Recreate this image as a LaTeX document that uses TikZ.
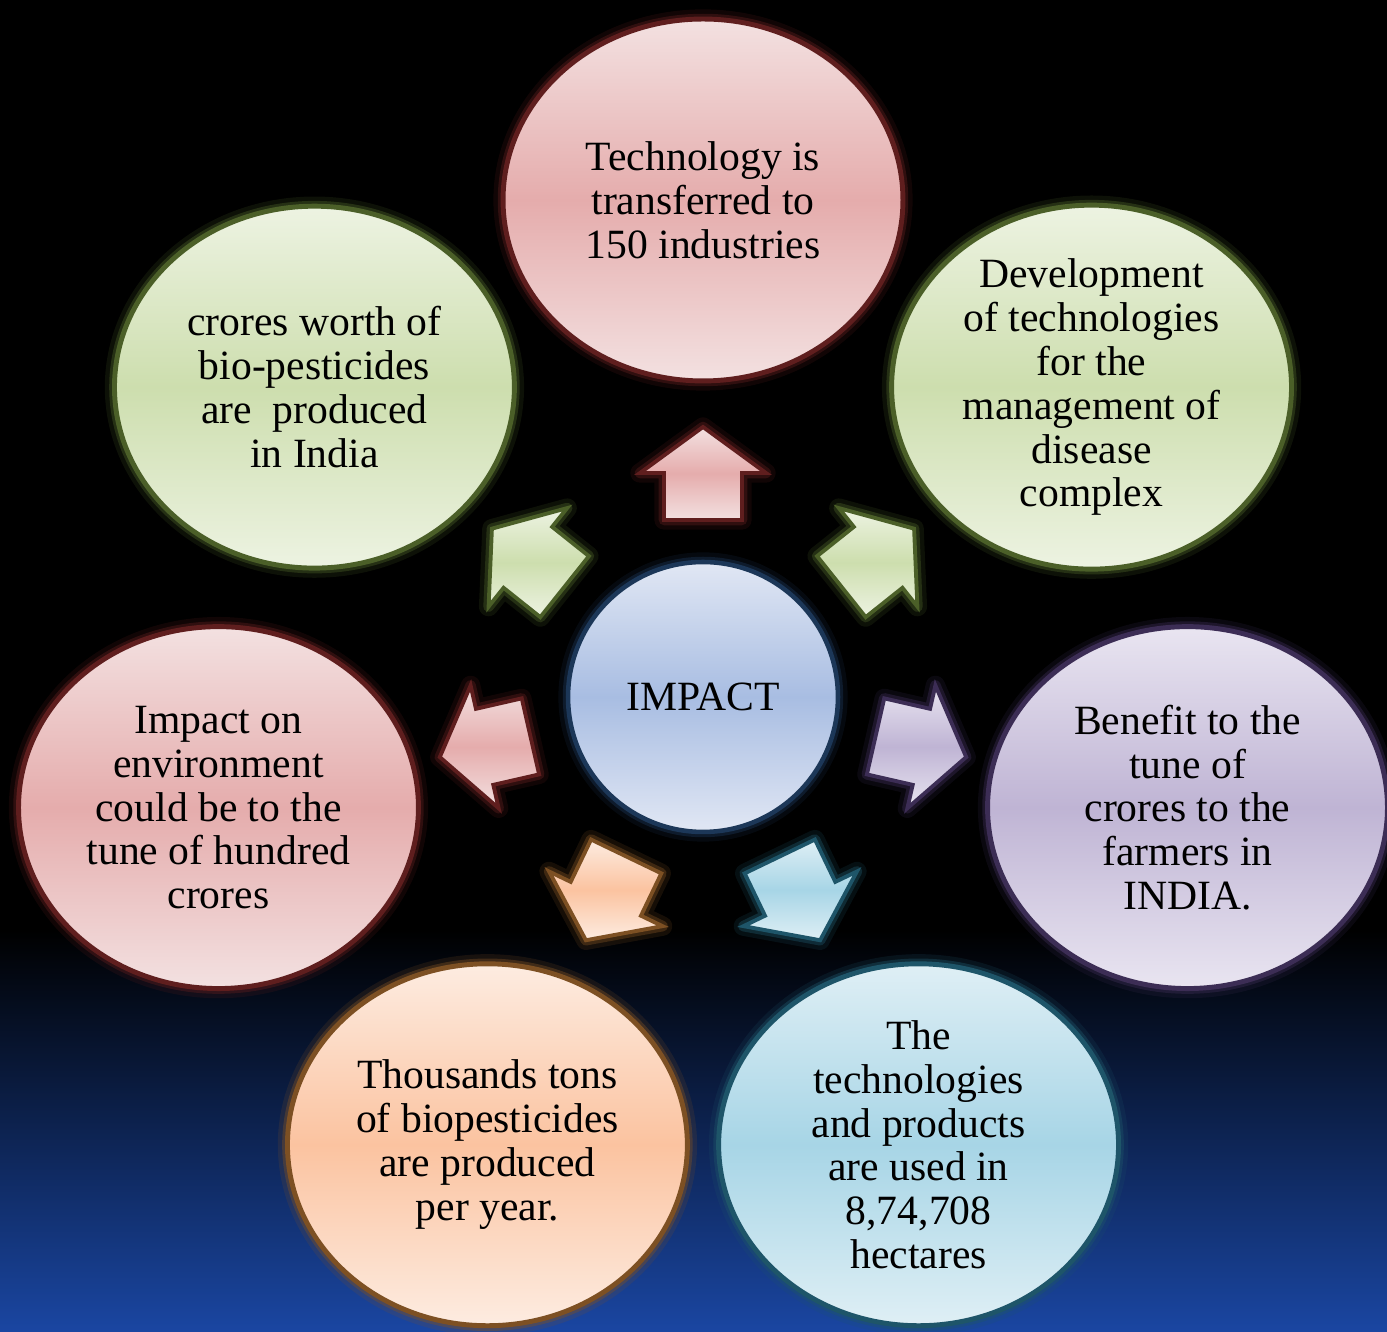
\documentclass[tikz,border=0pt]{standalone}
\usepackage{fontspec}
\setmainfont{Liberation Serif}
\usetikzlibrary{shapes.geometric}

\definecolor{rosetop}{RGB}{243,225,225}
\definecolor{rosemid}{RGB}{229,172,172}
\definecolor{roseline}{RGB}{95,30,30}
\definecolor{leaftop}{RGB}{237,243,226}
\definecolor{leafmid}{RGB}{205,222,174}
\definecolor{leafline}{RGB}{75,95,40}
\definecolor{lilactop}{RGB}{233,229,241}
\definecolor{lilacmid}{RGB}{191,180,212}
\definecolor{lilacline}{RGB}{60,45,85}
\definecolor{skytop}{RGB}{223,239,245}
\definecolor{skymid}{RGB}{167,213,230}
\definecolor{skyline}{RGB}{30,85,105}
\definecolor{peachtop}{RGB}{253,236,225}
\definecolor{peachmid}{RGB}{251,195,160}
\definecolor{peachline}{RGB}{125,80,35}
\definecolor{coretop}{RGB}{225,231,244}
\definecolor{coremid}{RGB}{168,189,226}
\definecolor{coreline}{RGB}{28,55,88}
\definecolor{deepsea}{RGB}{26,70,162}

\begin{document}
\begin{tikzpicture}[x=0.02cm, y=0.02cm,
  font=\fontsize{23.7}{25}\selectfont,
  tint/.style={draw=#1line, top color=#1top, bottom color=#1top, middle color=#1mid,
    preaction={draw=#1line, draw opacity=.18, line width=11pt, line join=round},
    preaction={draw=#1line, draw opacity=.4, line width=6pt, line join=round}},
  bubble/.style={ellipse, tint=#1, line width=2.8pt, minimum width=8cm,
    minimum height=7.24cm, inner sep=0pt, align=center},
  core/.style={circle, tint=core, line width=2.6pt, minimum size=5.4cm, inner sep=0pt},
  pointer/.style={tint=#1, line width=2.2pt, line join=miter}]

\useasboundingbox (0,0) rectangle (1387,1332);
\fill[black] (0,0) rectangle (1387,1332);
\shade[top color=black, bottom color=deepsea] (0,0) rectangle (1387,402);

% hub and the seven outcomes around it
\node[core] (impact) at (703,635) {IMPACT};
\node[bubble=rose] (transfer) at ([shift={(90:497)}]impact.center)
  {Technology is\\transferred to\\150 industries};
\node[bubble=leaf] (develop) at ([shift={(38.57:497)}]impact.center)
  {Development\\of technologies\\for the\\management of\\disease\\complex};
\node[bubble=lilac] (benefit) at ([shift={(-12.86:497)}]impact.center)
  {Benefit to the\\tune of\\crores to the\\farmers in\\INDIA.};
\node[bubble=sky] (hectares) at ([shift={(-64.29:497)}]impact.center)
  {The\\technologies\\and products\\are used in\\8,74,708\\hectares};
\node[bubble=peach] (tons) at ([shift={(-115.71:497)}]impact.center)
  {Thousands tons\\of biopesticides\\are produced\\per year.};
\node[bubble=rose] (environ) at ([shift={(-167.14:497)}]impact.center)
  {Impact on\\environment\\could be to the\\tune of hundred\\crores};
\node[bubble=leaf] (worth) at ([shift={(141.43:497)}]impact.center)
  {crores worth of\\bio-pesticides\\are\ \ produced\\in India};

% block arrows pointing out of the hub
\foreach \ang/\hue in {90/rose, 38.57/leaf, -12.86/lilac, -64.29/sky,
    -115.71/peach, -167.14/rose, 141.43/leaf} {
  \begin{scope}[shift={(impact.center)}, rotate=\ang]
    \coordinate (tail l) at (177,39);
    \coordinate (neck l) at (224,39);
    \coordinate (barb l) at (224,63);
    \coordinate (tip)    at (270,0);
    \coordinate (barb r) at (224,-63);
    \coordinate (neck r) at (224,-39);
    \coordinate (tail r) at (177,-39);
  \end{scope}
  \draw[pointer=\hue] (tail l) -- (neck l) -- (barb l) -- (tip) -- (barb r)
    -- (neck r) -- (tail r) -- cycle;
}
\end{tikzpicture}
\end{document}
